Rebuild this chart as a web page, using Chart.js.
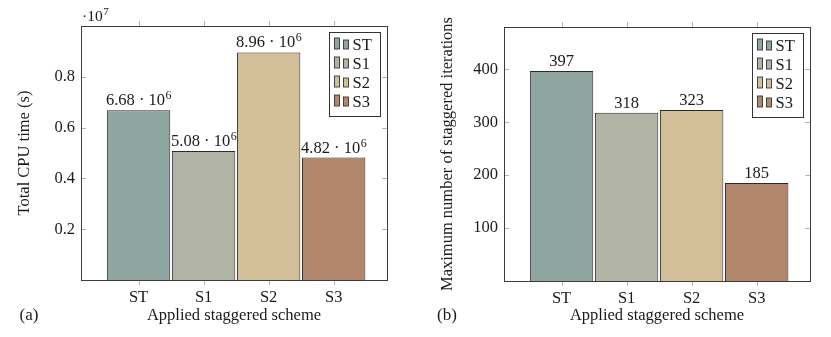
<!DOCTYPE html>
<html><head><meta charset="utf-8">
<script src="https://cdn.jsdelivr.net/npm/chart.js@4"></script>
<style>
html,body{margin:0;padding:0;background:#fff;}
#wrap{position:relative;width:831px;height:337px;overflow:hidden;}
canvas{position:absolute;top:0;}
</style></head><body>
<div id="wrap">
<canvas id="ca" width="415" height="337" style="left:0"></canvas>
<canvas id="cb" width="416" height="337" style="left:415px"></canvas>
</div>
<script>
// ---- data ----
const schemes = ['ST', 'S1', 'S2', 'S3'];
const cpuTime = [6.68e6, 5.08e6, 8.96e6, 4.82e6];
const maxIterations = [397, 318, 323, 185];
const cpuTicks = [0.2e7, 0.4e7, 0.6e7, 0.8e7];
const iterTicks = [100, 200, 300, 400];
const cpuMultiplierExp = 7;

// ---- styles ----
const barColors = ['#8fa59f', '#b1b3a4', '#d2bf9a', '#b2876c'];
const FONT = '"Liberation Serif", "Times New Roman", serif';
const TXT = '#1a1a1a';
const FS = 16.5;

function drawSup(ctx, main, sup, cx, y, size, align) {
  ctx.font = size + 'px ' + FONT;
  const w1 = ctx.measureText(main).width;
  ctx.font = Math.round(size * 0.7) + 'px ' + FONT;
  const w2 = ctx.measureText(sup).width;
  let x0 = align === 'left' ? cx : cx - (w1 + w2) / 2;
  ctx.textAlign = 'left';
  ctx.textBaseline = 'alphabetic';
  ctx.font = size + 'px ' + FONT;
  ctx.fillText(main, x0, y);
  ctx.font = Math.round(size * 0.7) + 'px ' + FONT;
  ctx.fillText(sup, x0 + w1 + 0.5, y - 6);
}

const decor = {
  id: 'decor',
  afterDatasetsDraw(chart, args, o) {
    const ctx = chart.ctx, ca = chart.chartArea, xs = chart.scales.x, ys = chart.scales.y;
    ctx.save();
    ctx.fillStyle = TXT;
    // data labels
    const ds = chart.data.datasets[0];
    chart.getDatasetMeta(0).data.forEach((bar, i) => {
      const v = ds.data[i].y;
      if (o.sci) {
        const e = Math.floor(Math.log10(v));
        drawSup(ctx, (v / Math.pow(10, e)).toFixed(2) + ' \u00b7 10', String(e), bar.x, bar.y - 5, FS);
      } else {
        ctx.font = FS + 'px ' + FONT; ctx.textAlign = 'center'; ctx.textBaseline = 'alphabetic';
        ctx.fillText(String(v), bar.x, bar.y - 5);
      }
    });
    // ticks
    ctx.strokeStyle = '#b4b4b4'; ctx.lineWidth = 1;
    const line = (a, b, c, d) => { ctx.beginPath(); ctx.moveTo(a, b); ctx.lineTo(c, d); ctx.stroke(); };
    xs.ticks.forEach(t => {
      const px = Math.round(xs.getPixelForValue(t.value)) + 0.5;
      line(px, ca.top - 5, px, ca.top);
      line(px, ca.bottom, px, ca.bottom + 5);
    });
    ys.ticks.forEach(t => {
      const py = Math.round(ys.getPixelForValue(t.value)) + 0.5;
      line(ca.left, py, ca.left + 5, py);
      line(ca.right - 5, py, ca.right, py);
    });
    // frame
    ctx.strokeStyle = '#3c3c3c';
    ctx.strokeRect(Math.round(ca.left) + 0.5, Math.round(ca.top) + 0.5, Math.round(ca.width), Math.round(ca.height));
    // legend
    const bw = 51, bh = 84;
    const lx = Math.round(ca.right) - 7 - bw + 0.5, ly = Math.round(ca.top) + 6 + 0.5;
    ctx.fillStyle = '#fff'; ctx.fillRect(lx, ly, bw, bh);
    ctx.strokeStyle = '#333'; ctx.strokeRect(lx, ly, bw, bh);
    schemes.forEach((s, i) => {
      const cy = Math.round(ly + 11 + i * 19.3);
      ctx.fillStyle = barColors[i]; ctx.strokeStyle = '#333'; ctx.lineWidth = 0.9;
      ctx.fillRect(lx + 5, cy - 6, 5, 11); ctx.strokeRect(lx + 5, cy - 6, 5, 11);
      ctx.fillRect(lx + 14, cy - 4, 5, 9); ctx.strokeRect(lx + 14, cy - 4, 5, 9);
      ctx.fillStyle = TXT; ctx.font = FS + 'px ' + FONT; ctx.textAlign = 'left'; ctx.textBaseline = 'alphabetic';
      ctx.fillText(s, lx + 23, cy + 5.5);
    });
    // multiplier
    if (o.mult) {
      ctx.fillStyle = TXT;
      drawSup(ctx, '\u00b710', String(o.mult), ca.left + 1, ca.top - 5, 15.5, 'left');
    }
    // panel letter
    ctx.fillStyle = TXT; ctx.font = '17px ' + FONT; ctx.textAlign = 'center'; ctx.textBaseline = 'middle';
    ctx.fillText(o.letter, o.letterX, 316);
    ctx.restore();
  }
};

function makeChart(id, values, yMax, yTicks, yTitle, tickFmt, o) {
  return new Chart(document.getElementById(id), {
    type: 'bar',
    data: {
      datasets: [{
        data: values.map((v, i) => ({ x: i, y: v })),
        backgroundColor: barColors,
        borderColor: '#2b2b2b',
        borderWidth: 1,
        barPercentage: 0.975,
        categoryPercentage: 1
      }]
    },
    plugins: [decor],
    options: {
      responsive: false,
      animation: false,
      devicePixelRatio: 1,
      layout: { padding: { left: 0, right: o.padRight, top: o.top, bottom: 0 } },
      plugins: {
        legend: { display: false },
        tooltip: { enabled: false },
        decor: { sci: o.sci, mult: o.mult, letter: o.letter, letterX: o.letterX }
      },
      scales: {
        x: {
          type: 'linear', min: -0.885, max: 3.82, offset: false,
          afterBuildTicks: s => { s.ticks = schemes.map((_, i) => ({ value: i })); },
          afterFit: s => { s.height = 337 - o.bottom; },
          grid: { display: false, drawTicks: false, offset: false },
          border: { display: false },
          ticks: { callback: v => schemes[v], font: { family: FONT, size: FS }, color: TXT, padding: 8, maxRotation: 0, autoSkip: false },
          title: { display: true, text: 'Applied staggered scheme', font: { family: FONT, size: FS }, color: TXT, padding: { top: 0, bottom: 11 } }
        },
        y: {
          min: 0, max: yMax,
          afterBuildTicks: s => { s.ticks = yTicks.map(v => ({ value: v })); },
          afterFit: s => { s.width = o.left; },
          grid: { display: false, drawTicks: false },
          border: { display: false },
          ticks: { callback: tickFmt, font: { family: FONT, size: FS }, color: TXT, padding: 6 },
          title: { display: true, text: yTitle, font: { family: FONT, size: FS }, color: TXT, padding: { top: o.titlePad, bottom: 0 } }
        }
      }
    }
  });
}

makeChart('ca', cpuTime, 1.0e7, cpuTicks, 'Total CPU time (s)',
  v => (v / Math.pow(10, cpuMultiplierExp)).toFixed(1),
  { left: 81, padRight: 28, top: 26, bottom: 280, sci: true, mult: cpuMultiplierExp, letter: '(a)', letterX: 29, titlePad: 15 });

makeChart('cb', maxIterations, 480, iterTicks, 'Maximum number of staggered iterations',
  v => String(v),
  { left: 89, padRight: 21, top: 27, bottom: 281, sci: false, mult: 0, letter: '(b)', letterX: 32, titlePad: 23 });
</script>
</body></html>
